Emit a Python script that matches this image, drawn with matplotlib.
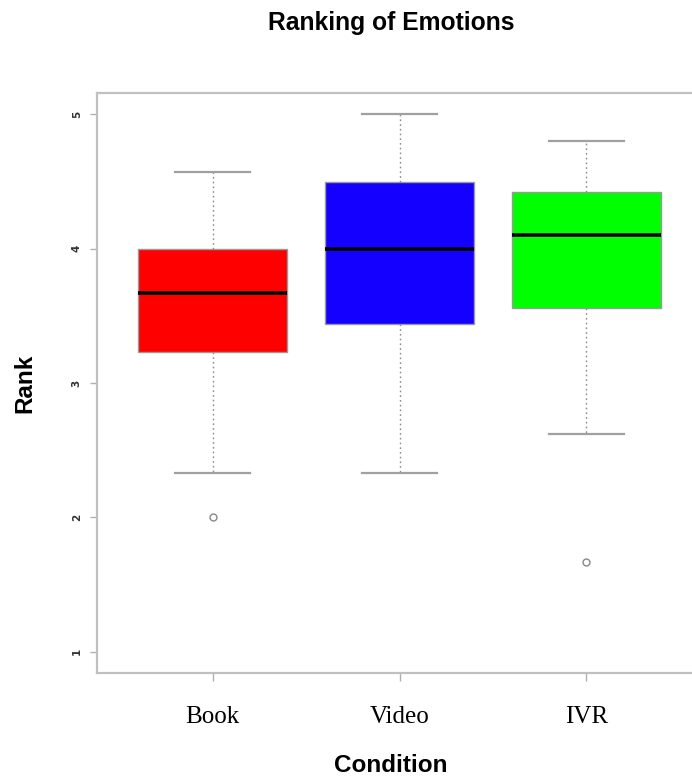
import matplotlib
matplotlib.use("Agg")
import matplotlib.pyplot as plt

# ---- data ----
conditions = ["Book", "Video", "IVR"]
q1 = [3.23, 3.44, 3.56]
medians = [3.67, 4.00, 4.10]
q3 = [4.00, 4.50, 4.42]
whisker_low = [2.33, 2.33, 2.62]
whisker_high = [4.57, 5.00, 4.80]
outliers = [[2.00], [], [1.67]]
box_colors = ["#FF0000", "#1400FF", "#00FF00"]
y_ticks = [1, 2, 3, 4, 5]

fig = plt.figure(figsize=(6.92, 7.78), dpi=100)
ax = fig.add_axes([97/692, 1-673/778, (702-97)/692, (673-93)/778])

stats = []
for i, c in enumerate(conditions):
    stats.append(dict(label=c, q1=q1[i], med=medians[i], q3=q3[i],
                      whislo=whisker_low[i], whishi=whisker_high[i],
                      fliers=outliers[i]))

bp = ax.bxp(stats, positions=[1, 2, 3], widths=0.8, patch_artist=True,
            boxprops=dict(edgecolor="#9a9a9a", linewidth=1.0),
            medianprops=dict(color="black", linewidth=2.6, solid_capstyle="butt"),
            whiskerprops=dict(color="#8a8a8a", linewidth=1.0, linestyle=(0, (1.2, 2.2))),
            capprops=dict(color="#a0a0a0", linewidth=1.6),
            capwidths=0.4,
            flierprops=dict(marker="o", markerfacecolor="none",
                            markeredgecolor="#888888", markersize=5, markeredgewidth=1.0))
for patch, col in zip(bp["boxes"], box_colors):
    patch.set_facecolor(col)

ax.set_xlim(0.38, 3.62)
ax.set_ylim(0.84, 5.16)

for s in ax.spines.values():
    s.set_color("#c0c0c0")
    s.set_linewidth(1.6)
    s.set_clip_on(False)

ax.set_yticks(y_ticks)
ax.set_yticklabels([str(v) for v in y_ticks], rotation=90, fontsize=7.5,
                   fontweight="bold", color="#333333", va="center")
ax.tick_params(axis="y", length=5, width=1.0, color="#b0b0b0", pad=6)
ax.set_xticks([1, 2, 3])
ax.set_xticklabels(conditions, fontfamily="Liberation Serif", fontsize=18, color="black")
ax.tick_params(axis="x", length=6, width=1.0, color="#b0b0b0", pad=18)

fig.text(391/692, 1-23/778, "Ranking of Emotions", ha="center", va="center",
         fontfamily="Liberation Sans", fontweight="bold", fontsize=17.7)
fig.text(391/692, 1-766/778, "Condition", ha="center", va="center",
         fontfamily="Liberation Sans", fontweight="bold", fontsize=17.5)
fig.text(25/692, 1-383/778, "Rank", ha="center", va="center", rotation=90,
         fontfamily="Liberation Sans", fontweight="bold", fontsize=17.5)

fig.savefig("out.png", dpi=100)
